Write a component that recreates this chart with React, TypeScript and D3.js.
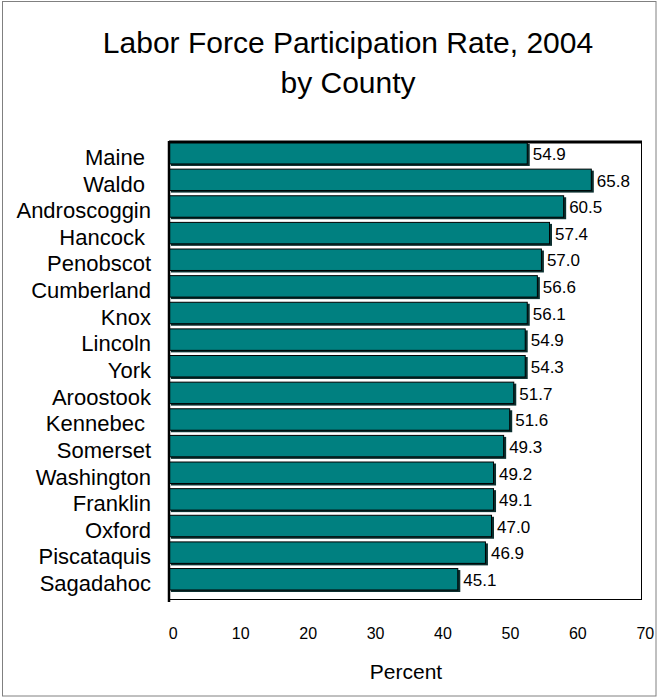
import React from "react";
import * as d3 from "d3";

// Categories (top to bottom) as printed on the chart
const counties = [
  "Maine ",
  "Waldo ",
  "Androscoggin",
  "Hancock ",
  "Penobscot",
  "Cumberland",
  "Knox",
  "Lincoln",
  "York",
  "Aroostook",
  "Kennebec ",
  "Somerset",
  "Washington",
  "Franklin",
  "Oxford",
  "Piscataquis",
  "Sagadahoc",
];

// Values printed at the end of each bar
const printedValues = [
  54.9, 65.8, 60.5, 57.4, 57.0, 56.6, 56.1, 54.9, 54.3, 51.7, 51.6, 49.3, 49.2,
  49.1, 47.0, 46.9, 45.1,
];

// Bar lengths as read against the Percent axis
const barLengths = [
  53.5, 63.0, 58.9, 56.8, 55.6, 55.0, 53.5, 53.2, 53.2, 51.5, 50.9, 50.0, 48.5,
  48.5, 48.2, 47.3, 43.2,
];

const xTicks = [0, 10, 20, 30, 40, 50, 60, 70];
const titleLines = ["Labor Force Participation Rate, 2004", "by County"];
const xAxisTitle = "Percent";

const W = 658;
const H = 698;
const FONT = "'Liberation Sans', Arial, Helvetica, sans-serif";

export default function App() {
  const x = d3.scaleLinear().domain([0, 70]).range([169, 641]);
  const y = d3
    .scaleBand<string>()
    .domain(counties)
    .range([142, 592])
    .paddingInner(0.1)
    .paddingOuter(0);
  const bw = y.bandwidth();
  const x0 = x(0);
  const plotTop = 142;
  const plotBottom = 599;
  const plotRight = x(70);

  return (
    <svg
      width={W}
      height={H}
      style={{ position: "absolute", left: 0, top: 0, background: "#fff" }}
      fontFamily={FONT}
    >
      {/* outer border */}
      <rect x={2.5} y={1.5} width={653.5} height={694.5} fill="#fff" stroke="#808080" strokeWidth={1} />

      {/* title */}
      {titleLines.map((t, i) => (
        <text
          key={t}
          x={348}
          y={52.5 + i * 40}
          textAnchor="middle"
          fontSize={30}
          fill="#000"
        >
          {t}
        </text>
      ))}

      {/* bars */}
      {counties.map((c, i) => {
        const yy = y(c) as number;
        const xe = x(barLengths[i]);
        return (
          <g key={c}>
            <rect x={x0 + 2} y={yy + 2} width={xe - x0 - 2} height={bw - 2} fill="#0b2f2f" />
            <rect
              x={x0}
              y={yy + 0.5}
              width={xe - x0 - 2.5}
              height={bw - 2.5}
              fill="#008080"
              stroke="#000"
              strokeWidth={1}
            />
            <text
              x={xe + 3}
              y={yy + bw / 2 + 6}
              fontSize={17}
              fill="#000"
            >
              {printedValues[i].toFixed(1)}
            </text>
          </g>
        );
      })}

      {/* plot frame */}
      <line x1={plotRight + 0.5} y1={plotTop} x2={plotRight + 0.5} y2={plotBottom} stroke="#000" strokeWidth={1} />
      <line x1={x0} y1={plotBottom + 0.5} x2={plotRight + 1} y2={plotBottom + 0.5} stroke="#000" strokeWidth={1} />
      <line x1={x0} y1={plotTop} x2={plotRight + 1} y2={plotTop} stroke="#000" strokeWidth={3} />
      <line x1={x0} y1={plotTop - 1} x2={x0} y2={plotBottom + 3} stroke="#000" strokeWidth={2.5} />

      {/* category labels */}
      {counties.map((c) => (
        <text
          key={"l" + c}
          x={151}
          y={(y(c) as number) + bw / 2 + 11}
          textAnchor="end"
          fontSize={22}
          fill="#000"
          style={{ whiteSpace: "pre" }}
        >
          {c}
        </text>
      ))}

      {/* x tick labels */}
      {xTicks.map((t) => (
        <text key={"t" + t} x={x(t) + 4.3} y={638.5} textAnchor="middle" fontSize={16} fill="#000">
          {t}
        </text>
      ))}

      {/* x axis title */}
      <text x={406} y={679} textAnchor="middle" fontSize={21} fill="#000">
        {xAxisTitle}
      </text>
    </svg>
  );
}
